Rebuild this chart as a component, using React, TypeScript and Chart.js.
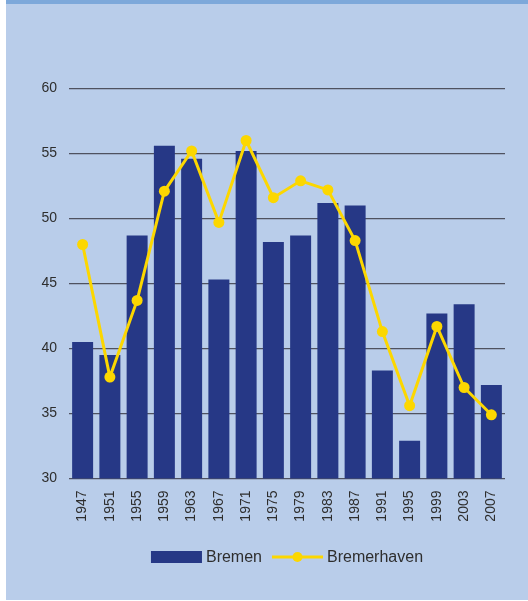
import React, { useEffect, useRef } from "react";
import { Chart, registerables } from "chart.js";

Chart.register(...registerables);

const years = ["1947", "1951", "1955", "1959", "1963", "1967", "1971", "1975", "1979", "1983", "1987", "1991", "1995", "1999", "2003", "2007"];
const bremen = [40.5, 39.5, 48.7, 55.6, 54.6, 45.3, 55.2, 48.2, 48.7, 51.2, 51.0, 38.3, 32.9, 42.7, 43.4, 37.2];
const bremerhaven = [48.0, 37.8, 43.7, 52.1, 55.2, 49.7, 56.0, 51.6, 52.9, 52.2, 48.3, 41.3, 35.6, 41.7, 37.0, 34.9];
const yTicks = [30, 35, 40, 45, 50, 55, 60];

const BAR_COLOR = "#263886";
const LINE_COLOR = "#fcd700";
const TEXT_COLOR = "#2e2e2e";
const FONT = "'Liberation Sans', Arial, sans-serif";

const legendPlugin = {
  id: "customLegend",
  afterDraw(chart: any) {
    const ctx = chart.ctx;
    const area = chart.chartArea;
    ctx.save();
    ctx.font = `16px ${FONT}`;
    const w1 = ctx.measureText("Bremen").width;
    const w2 = ctx.measureText("Bremerhaven").width;
    const sw = 51;
    const total = sw + 4 + w1 + 10 + sw + 4 + w2;
    let x = (area.left + area.right) / 2 - total / 2;
    const y = 553;
    ctx.fillStyle = BAR_COLOR;
    ctx.fillRect(x, y - 6, sw, 12);
    x += sw + 4;
    ctx.fillStyle = TEXT_COLOR;
    ctx.textBaseline = "middle";
    ctx.textAlign = "left";
    ctx.fillText("Bremen", x, y + 1);
    x += w1 + 10;
    ctx.strokeStyle = LINE_COLOR;
    ctx.lineWidth = 3;
    ctx.beginPath();
    ctx.moveTo(x, y);
    ctx.lineTo(x + sw, y);
    ctx.stroke();
    ctx.fillStyle = LINE_COLOR;
    ctx.beginPath();
    ctx.arc(x + sw / 2, y, 5, 0, Math.PI * 2);
    ctx.fill();
    x += sw + 4;
    ctx.fillStyle = TEXT_COLOR;
    ctx.fillText("Bremerhaven", x, y + 1);
    ctx.restore();
  },
};

export default function App() {
  const ref = useRef<HTMLCanvasElement>(null);

  useEffect(() => {
    document.body.style.margin = "0";
    const canvas = ref.current;
    if (!canvas) return;
    const chart = new Chart(canvas, {
      type: "bar",
      data: {
        labels: years,
        datasets: [
          {
            type: "line",
            label: "Bremerhaven",
            data: bremerhaven,
            borderColor: LINE_COLOR,
            backgroundColor: LINE_COLOR,
            borderWidth: 3,
            pointRadius: 5.5,
            pointBackgroundColor: LINE_COLOR,
            pointBorderWidth: 0,
            tension: 0,
            order: 0,
          } as any,
          {
            type: "bar",
            label: "Bremen",
            data: bremen,
            backgroundColor: BAR_COLOR,
            borderWidth: 0,
            categoryPercentage: 1,
            barPercentage: 0.77,
            order: 1,
          } as any,
        ],
      },
      options: {
        animation: false,
        responsive: false,
        maintainAspectRatio: false,
        layout: { padding: { left: 0, top: 84.5, right: 23, bottom: 0 } },
        plugins: {
          legend: { display: false },
          tooltip: { enabled: false },
        },
        scales: {
          x: {
            grid: { display: false, drawTicks: false },
            border: { display: false },
            ticks: {
              autoSkip: false,
              maxRotation: 90,
              minRotation: 90,
              padding: 12,
              color: TEXT_COLOR,
              font: { family: FONT, size: 14 },
            },
            afterFit(scale: any) {
              scale.height = 121.5;
            },
          },
          y: {
            min: 30,
            max: 60,
            afterBuildTicks(scale: any) {
              scale.ticks = yTicks.map((v) => ({ value: v }));
            },
            grid: { color: "#4f5260", lineWidth: 1.3, drawTicks: false },
            border: { display: false },
            ticks: {
              padding: 12,
              color: TEXT_COLOR,
              font: { family: FONT, size: 14 },
            },
            afterFit(scale: any) {
              scale.width = 63;
            },
          },
        },
      },
      plugins: [legendPlugin],
    });
    return () => chart.destroy();
  }, []);

  return (
    <div style={{ position: "absolute", left: 0, top: 0, width: 528, height: 601, background: "#ffffff" }}>
      <div
        style={{
          position: "absolute",
          left: 6,
          top: 0,
          width: 522,
          height: 600,
          background: "#b9cdea",
        }}
      >
        <div style={{ position: "absolute", left: 0, top: 0, width: 522, height: 4, background: "#7da8da" }} />
        <canvas ref={ref} width={522} height={596} style={{ position: "absolute", left: 0, top: 4, width: 522, height: 596 }} />
      </div>
    </div>
  );
}
